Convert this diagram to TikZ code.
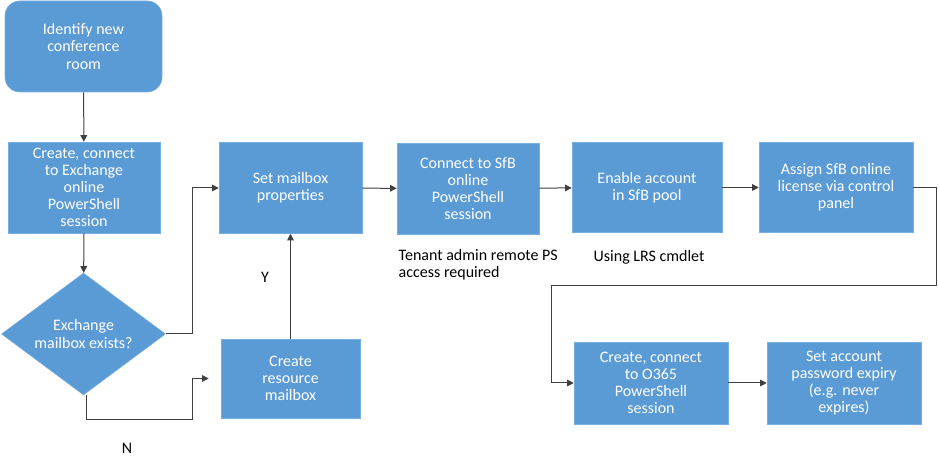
\documentclass[tikz,border=0pt]{standalone}
\usepackage{fontspec}
\setmainfont{Carlito}
\usetikzlibrary{arrows.meta,shapes.geometric}
\definecolor{boxblue}{RGB}{91,155,213}
\definecolor{boxedge}{RGB}{120,175,225}
\definecolor{linegray}{RGB}{64,64,64}
\begin{document}
\begin{tikzpicture}[x=0.75pt,y=-0.75pt,
    stepbox/.style={draw=boxedge, fill=boxblue, rectangle, text=white, align=center, inner sep=2pt,
        font=\fontsize{12}{12.8}\selectfont},
    startbox/.style={stepbox, rounded corners=11pt},
    decision/.style={draw=boxedge, fill=boxblue, diamond, aspect=1.34, inner sep=0pt, text=white, align=center,
        font=\fontsize{12}{12.8}\selectfont},
    note/.style={text=black, align=left, font=\fontsize{12}{12.8}\selectfont},
    flow/.style={draw=linegray, line width=0.75pt, -{Triangle[length=5pt,width=5pt]}}]
    \useasboundingbox (0,0) rectangle (939,466);

    \node (ident) [startbox, minimum width=117.75pt, minimum height=68.25pt] at (83.5, 46.5) {Identify new\\conference\\room};
    \node (exch) [stepbox, minimum width=114pt, minimum height=68.25pt] at (84, 187.5) {Create, connect\\to Exchange\\online\\PowerShell\\session};
    \node (dec) [decision, minimum width=123pt, minimum height=91.5pt] at (83.5, 334) {Exchange\\mailbox exists?};
    \node (setmb) [stepbox, minimum width=107.25pt, minimum height=68.25pt] at (290.5, 188) {Set mailbox\\properties};
    \node (resmb) [stepbox, minimum width=104.25pt, minimum height=59.25pt] at (290.5, 378.5) {Create\\resource\\mailbox};
    \node (sfb) [stepbox, minimum width=106.5pt, minimum height=68.25pt] at (468, 188.5) {Connect to SfB\\online\\PowerShell\\session};
    \node (enable) [stepbox, minimum width=112.5pt, minimum height=67.5pt] at (647, 187.5) {Enable account\\in SfB pool};
    \node (assign) [stepbox, minimum width=115.5pt, minimum height=67.5pt] at (836, 187.5) {Assign SfB online\\license via control\\panel};
    \node (o365) [stepbox, minimum width=115.5pt, minimum height=61.5pt] at (651, 383) {Create, connect\\to O365\\PowerShell\\session};
    \node (expiry) [stepbox, minimum width=115.5pt, minimum height=61.5pt] at (844, 383) {Set account\\password expiry\\(e.g. never\\expires)};

    \node (tenant) [note, anchor=west] at (394, 265) {Tenant admin remote PS\\access required};
    \node (lrs) [note, anchor=west] at (589, 257) {Using LRS cmdlet};
    \node (yes) [note] at (265, 277) {Y};
    \node (no) [note] at (127, 448) {N};

    \coordinate (nbend) at (192.7, 420);
    \coordinate (loop) at (551, 286);

    \draw[flow] (ident) -- (exch);
    \draw[flow] (exch) -- (dec);
    \draw[flow] (dec.east) -- ++(27,0) |- (setmb.west);
    \draw[flow, shorten >=9pt] ([xshift=2pt]dec.south) |- (nbend) |- (resmb.west);
    \draw[flow] (resmb) -- (setmb);
    \draw[flow] (setmb) -- (sfb);
    \draw[flow] (sfb) -- (enable);
    \draw[flow] (enable) -- (assign);
    \draw[flow] (assign.east) -- ++(23,0) |- (loop) |- (o365.west);
    \draw[flow] (o365) -- (expiry);
\end{tikzpicture}
\end{document}
